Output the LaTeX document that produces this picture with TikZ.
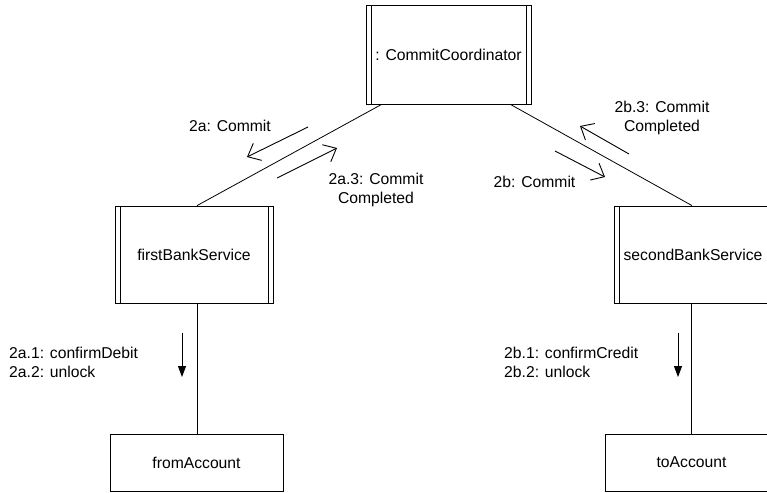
\documentclass[tikz,border=0pt]{standalone}
\usepackage{fontspec}
\setmainfont{Liberation Sans}
\usetikzlibrary{arrows.meta}

\tikzset{
    obj/.style={draw, line width=0.8pt, inner sep=0pt},
    active/.style={obj, path picture={
        \draw[line width=0.8pt] ([xshift=5pt]path picture bounding box.north west) -- ([xshift=5pt]path picture bounding box.south west);
        \draw[line width=0.8pt] ([xshift=-5pt]path picture bounding box.north east) -- ([xshift=-5pt]path picture bounding box.south east);}},
    link/.style={line width=0.8pt},
    msg/.style={line width=0.9pt, -{Straight Barb[length=11pt, width=19pt]}},
    call/.style={line width=0.8pt, -{Triangle[length=11pt, width=8pt]}},
    lbl/.style={inner sep=0pt, align=center}
}

\begin{document}
\begin{tikzpicture}[x=1pt, y=-1pt, font=\fontsize{15.7}{19}\selectfont]
    \useasboundingbox (0, 0) rectangle (767, 492);

    % objects
    \node[active, minimum width=165pt, minimum height=99pt] (cc) at (448.5, 54.5) {: CommitCoordinator};
    \node[active, minimum width=158pt, minimum height=97pt] (fbs) at (194, 254.5) {firstBankService};
    \node[active, minimum width=158pt, minimum height=97pt] (sbs) at (693, 254.5) {secondBankService};
    \node[obj, minimum width=173pt, minimum height=57pt] (from) at (196.5, 462.5) {fromAccount};
    \node[obj, minimum width=173pt, minimum height=57pt] (to) at (691.5, 462.5) {toAccount};

    % links
    \draw[link] ([xshift=16pt]cc.south west) -- ([xshift=3pt]fbs.north);
    \draw[link] ([xshift=-21pt]cc.south east) -- ([xshift=-1pt]sbs.north);
    \draw[link] ([xshift=3pt]fbs.south) -- ([xshift=3pt]fbs.south |- from.north);
    \draw[link] ([xshift=-2pt]sbs.south) -- ([xshift=-2pt]sbs.south |- to.north);

    % messages
    \coordinate (a1) at (308, 127); \coordinate (a2) at (247, 157);
    \coordinate (a3) at (277, 178); \coordinate (a4) at (337, 148);
    \coordinate (b1) at (555, 151); \coordinate (b2) at (605, 177);
    \coordinate (b3) at (629, 154); \coordinate (b4) at (580, 126);
    \coordinate (c1) at (182, 333); \coordinate (c2) at (182, 377);
    \coordinate (d1) at (678, 333); \coordinate (d2) at (678, 377);
    \draw[msg] (a1) -- (a2);
    \draw[msg] (a3) -- (a4);
    \draw[msg] (b1) -- (b2);
    \draw[msg] (b3) -- (b4);
    \draw[call] (c1) -- (c2);
    \draw[call] (d1) -- (d2);

    \node[lbl] (la) at (230, 126) {2a: Commit};
    \node[lbl] (la3) at (376, 189.5) {2a.3: Commit\\Completed};
    \node[lbl] (lb) at (534.5, 182) {2b: Commit};
    \node[lbl] (lb3) at (662, 117.5) {2b.3: Commit\\Completed};
    \node[lbl, align=left, anchor=west] (lc) at (9, 362.5) {2a.1: confirmDebit\\2a.2: unlock};
    \node[lbl, align=left, anchor=west] (ld) at (504, 362.5) {2b.1: confirmCredit\\2b.2: unlock};
\end{tikzpicture}
\end{document}
